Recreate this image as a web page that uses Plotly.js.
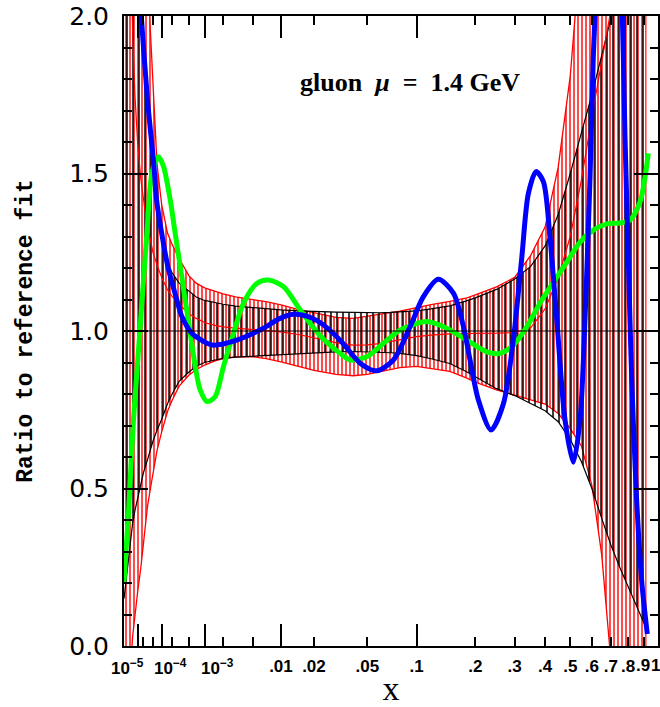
<!DOCTYPE html>
<html><head><meta charset="utf-8">
<script src="https://cdn.plot.ly/plotly-3.0.1.min.js"></script>
<style>html,body{margin:0;padding:0;background:#fff}#chart{width:660px;height:707px}</style>
</head><body><div id="chart"></div>
<script>
// ---------- data (x = momentum fraction, y = ratio to reference fit) ----------
const xGrid = [1e-6,2e-6,3e-6,5e-6,7e-6,1e-5,1.5e-5,2e-5,3e-5,4e-5,5e-5,7e-5,1e-4,1.5e-4,2e-4,3e-4,5e-4,7e-4,
  1e-3,1.5e-3,2e-3,3e-3,5e-3,7e-3,0.01,0.015,0.02,0.03,0.04,0.05,0.06,0.07,0.08,0.1,0.12,0.15,0.18,
  0.2,0.25,0.3,0.35,0.4,0.45,0.5,0.55,0.6,0.65,0.7,0.75,0.8,0.85,0.9,0.92];
const redUpper = [6.0,5.0,4.5,3.9,3.5,3.1,2.8,2.55,2.22,1.95,1.77,1.53,1.40,1.31,1.275,1.23,1.175,1.152,
  1.137,1.125,1.118,1.108,1.100,1.093,1.083,1.067,1.058,1.043,1.040,1.047,1.052,1.058,1.063,1.074,1.084,1.094,1.104,
  1.115,1.140,1.17,1.24,1.33,1.52,1.81,2.2,2.6,3.0,3.4,3.8,4.2,4.6,5.0,5.2];
const redLower = [-1.5,-0.6,-0.12,0.03,0.10,0.17,0.25,0.33,0.44,0.50,0.55,0.62,0.68,0.745,0.78,0.825,0.86,0.877,
  0.892,0.905,0.912,0.918,0.918,0.912,0.902,0.887,0.875,0.862,0.858,0.862,0.870,0.877,0.884,0.888,0.882,0.872,0.852,
  0.838,0.813,0.795,0.781,0.768,0.738,0.69,0.635,0.51,0.29,-0.05,-0.4,-0.8,-1.2,-1.6,-1.8];
const redCentral = [4.0,2.9,2.45,1.95,1.75,1.6,1.48,1.42,1.33,1.29,1.25,1.21,1.17,1.13,1.11,1.085,1.055,1.04,
  1.027,1.018,1.013,1.009,1.005,1.001,0.997,0.988,0.978,0.963,0.955,0.956,0.960,0.966,0.972,0.982,0.987,0.991,0.992,
  0.992,0.993,0.995,1.01,1.07,1.17,1.3,1.48,1.68,1.86,2.02,2.15,2.28,2.4,2.5,2.55];
const blackUpper = [7.0,5.5,4.6,3.6,3.0,2.5,2.03,1.88,1.71,1.59,1.49,1.37,1.29,1.215,1.185,1.152,1.125,1.108,
  1.097,1.09,1.085,1.079,1.074,1.070,1.067,1.064,1.062,1.060,1.059,1.058,1.058,1.059,1.060,1.064,1.070,1.080,1.095,
  1.105,1.132,1.165,1.205,1.27,1.37,1.50,1.63,1.75,1.875,1.99,2.1,2.2,2.3,2.4,2.45];
const blackLower = [0.15,0.25,0.31,0.39,0.43,0.47,0.52,0.55,0.59,0.625,0.65,0.685,0.72,0.77,0.80,0.84,0.87,0.888,
  0.90,0.908,0.913,0.917,0.92,0.923,0.926,0.929,0.932,0.934,0.935,0.934,0.932,0.931,0.929,0.922,0.912,0.897,0.872,
  0.855,0.817,0.795,0.77,0.747,0.712,0.655,0.585,0.50,0.405,0.32,0.25,0.19,0.13,0.075,0.05];
const refX = [1e-6, 1];
const refY = [1, 1];

const blueX = [6e-6,1e-5,1.57e-5,3.05e-5,5.5e-5,6.7e-5,1.0e-4,1.53e-4,2.65e-4,3.5e-4,5.7e-4,1.1e-3,1.42e-3,3.1e-3,
  6.0e-3,9.8e-3,0.0132,0.0174,0.0225,0.0322,0.0447,0.0576,0.0732,0.0918,0.109,0.131,0.1565,0.1754,0.1888,0.2067,
  0.2364,0.2682,0.2962,0.3213,0.3423,0.368,0.3937,0.4183,0.4442,0.4778,0.5134,0.5435,0.5668,0.5908,0.6071,0.6156,
  0.684,0.7652,0.7814,0.8015,0.8225,0.8542,0.8871,0.9247];
const blueY = [2.5,2.2,2.0,1.733,1.52,1.42,1.31,1.204,1.098,1.045,0.993,0.961,0.955,0.971,
  1.003,1.040,1.053,1.047,1.027,0.971,0.898,0.874,0.908,1.014,1.109,1.164,1.12,1.014,0.908,0.781,
  0.686,0.769,0.974,1.231,1.436,1.506,1.474,1.295,1.038,0.718,0.583,0.718,1.038,1.487,1.872,2.0,
  3.2,2.0,1.615,1.231,0.846,0.461,0.205,0.038];

const greenX = [1e-6,2.5e-6,4.5e-6,5.7e-6,1.31e-5,2.87e-5,4.57e-5,7.9e-5,1.14e-4,1.78e-4,2.4e-4,3.19e-4,4.14e-4,
  5.3e-4,6.7e-4,8.3e-4,1.1e-3,1.5e-3,2.02e-3,2.81e-3,3.8e-3,5.5e-3,7.4e-3,0.0106,0.0152,0.0225,0.0322,0.0381,
  0.0496,0.0636,0.0803,0.1137,0.1448,0.182,0.226,0.2593,0.2962,0.3371,0.3819,0.4309,0.485,0.5435,0.6071,0.6768,
  0.7516,0.8118,0.8758,0.909,0.9314];
const greenY = [0.204,0.421,0.633,0.72,0.993,1.31,1.50,1.553,1.522,1.416,1.31,1.204,1.098,
  0.993,0.887,0.813,0.776,0.791,0.887,0.993,1.088,1.151,1.162,1.141,1.067,0.985,0.929,0.908,
  0.918,0.961,1.003,1.030,1.009,0.971,0.934,0.929,0.955,1.013,1.089,1.154,1.218,1.282,1.32,1.34,
  1.343,1.352,1.410,1.487,1.564];

// ---------- axis ticks ----------
const longTickX = [1e-5, 1e-4, 1e-3, 0.01, 0.1];
const shortTickX = [2e-5, 5e-5, 2e-4, 5e-4, 2e-3, 5e-3, 0.9];
const labeledTickX = [0.01, 0.02, 0.05, 0.1, 0.2, 0.3, 0.4, 0.5, 0.6, 0.7, 0.8];
const labeledTickText = ['.01', '.02', '.05', '.1', '.2', '.3', '.4', '.5', '.6', '.7', '.8'];
// labels placed beside their ticks (crowded at the ends of the axis)
const sideLabelX = [1e-5, 1e-4, 1e-3, 0.9, 1];
const sideLabelText = ['10<sup>\u22125</sup>', '10<sup>\u22124</sup>', '10<sup>\u22123</sup>', '.9', '1'];
const sideLabelShift = [-10, 9, 13, -1, -3];
const yMinorTicks = [0.1,0.2,0.3,0.4,0.6,0.7,0.8,0.9,1.1,1.2,1.3,1.4,1.6,1.7,1.8,1.9];

// x axis drawn on a quartic-root scale: position = x^(1/4)
const q = v => Math.pow(v, 0.25);
const U = arr => arr.map(q);

const tickFont = {family: 'Liberation Sans', size: 17, color: '#000', weight: 'bold'};

const traces = [
  {x: U(xGrid), y: redLower, mode: 'lines', line: {color: '#ff0000', width: 1.3}, hoverinfo: 'skip'},
  {x: U(xGrid), y: redUpper, mode: 'lines', line: {color: '#ff0000', width: 1.3}, fill: 'tonexty',
   fillcolor: 'rgba(0,0,0,0)',
   fillpattern: {shape: '|', fgcolor: '#ff0000', bgcolor: 'rgba(0,0,0,0)', size: 4, solidity: 0.35}, hoverinfo: 'skip'},
  {x: U(xGrid), y: blackLower, mode: 'lines', line: {color: '#000000', width: 1.2}, hoverinfo: 'skip'},
  {x: U(xGrid), y: blackUpper, mode: 'lines', line: {color: '#000000', width: 1.2}, fill: 'tonexty',
   fillcolor: 'rgba(0,0,0,0)',
   fillpattern: {shape: '|', fgcolor: '#000000', bgcolor: 'rgba(0,0,0,0)', size: 6, solidity: 0.25}, hoverinfo: 'skip'},
  {x: U(xGrid), y: redCentral, mode: 'lines', line: {color: '#ff0000', width: 1.2}, hoverinfo: 'skip'},
  {x: U(refX), y: refY, xaxis: 'x2', mode: 'lines', line: {color: '#000000', width: 1}, hoverinfo: 'skip'},
  {x: U(greenX), y: greenY, mode: 'lines', line: {color: '#00ff00', width: 5, shape: 'spline', smoothing: 0.8}},
  {x: U(blueX), y: blueY, mode: 'lines', line: {color: '#0000ff', width: 5, shape: 'spline', smoothing: 0.8}}
];

const annotations = sideLabelX.map((v, i) => ({
  x: q(v), y: 0, xref: 'x', yref: 'paper', xanchor: 'center', yanchor: 'top',
  xshift: sideLabelShift[i], yshift: -8, showarrow: false, text: sideLabelText[i], font: tickFont
}));
annotations.push({x: 0.7453, y: 0.8937, xref: 'paper', yref: 'paper', xanchor: 'right', yanchor: 'middle',
  showarrow: false, text: 'gluon\u00a0\u00a0<i>\u03bc</i>\u00a0\u00a0=\u00a0\u00a01.4\u00a0GeV',
  font: {family: 'Liberation Serif', size: 26, color: '#000', weight: 'bold'}});

const xRange = [q(1e-6), 1];
const layout = {
  width: 660, height: 707,
  margin: {l: 124, r: 2, t: 16, b: 61},
  paper_bgcolor: '#ffffff', plot_bgcolor: '#ffffff',
  showlegend: false,
  xaxis: {
    type: 'linear', range: xRange, showgrid: false, zeroline: false,
    showline: true, linecolor: '#000', linewidth: 2, mirror: 'ticks',
    ticks: 'inside', ticklen: 22, tickwidth: 2, tickcolor: '#000',
    tickmode: 'array', tickvals: U(longTickX), showticklabels: false,
    minor: {tickmode: 'array', tickvals: U(shortTickX), ticks: 'inside', ticklen: 9, tickwidth: 2, tickcolor: '#000'}
  },
  xaxis2: {
    type: 'linear', range: xRange, overlaying: 'x', anchor: 'y', side: 'bottom',
    showgrid: false, zeroline: false, showline: false, mirror: 'ticks',
    ticks: 'inside', ticklen: 9, tickwidth: 2, tickcolor: '#000',
    tickmode: 'array', tickvals: U(labeledTickX), ticktext: labeledTickText, tickangle: 0,
    tickfont: tickFont, ticklabelstandoff: 8,
    title: {text: 'x', font: {family: 'Liberation Serif', size: 34, color: '#000'}, standoff: 4}
  },
  yaxis: {
    range: [0, 2], showgrid: false, zeroline: false,
    showline: true, linecolor: '#000', linewidth: 2, mirror: 'ticks',
    ticks: 'inside', ticklen: 24, tickwidth: 2, tickcolor: '#000',
    tickmode: 'linear', tick0: 0, dtick: 0.5, tickformat: '.1f',
    tickfont: {family: 'DejaVu Sans', size: 25, color: '#000'}, ticklabelstandoff: 8,
    minor: {tickmode: 'array', tickvals: yMinorTicks, ticks: 'inside', ticklen: 8, tickwidth: 2, tickcolor: '#000'},
    title: {text: 'Ratio to reference fit', font: {family: 'Liberation Mono', size: 23, color: '#000', weight: 'bold'}, standoff: 30}
  },
  annotations: annotations
};

Plotly.newPlot('chart', traces, layout, {staticPlot: true, displayModeBar: false});
</script>
</body></html>
